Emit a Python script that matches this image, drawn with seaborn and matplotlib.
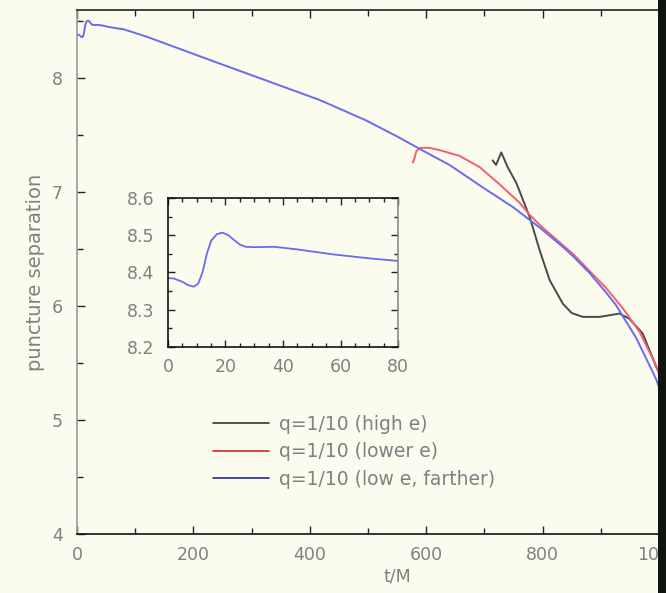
import numpy as np
import pandas as pd
import matplotlib
matplotlib.use("Agg")
import matplotlib.pyplot as plt
import seaborn as sns
from matplotlib.ticker import MultipleLocator
from matplotlib.patches import Rectangle

# ---- data ----
labels = ["q=1/10 (high e)", "q=1/10 (lower e)", "q=1/10 (low e, farther)"]

t_high = [714, 720, 729, 740, 755, 778, 795, 812, 835, 850, 869, 898, 932, 949, 972, 995, 1010]
v_high = [7.28, 7.24, 7.35, 7.22, 7.08, 6.78, 6.49, 6.23, 6.02, 5.94, 5.906, 5.906, 5.935, 5.89, 5.76, 5.47, 5.30]

t_low = [577, 580, 583, 590, 605, 623, 657, 692, 726, 760, 778, 800, 852, 909, 938, 966, 995, 1010]
v_low = [7.26, 7.30, 7.36, 7.39, 7.39, 7.37, 7.32, 7.22, 7.07, 6.91, 6.80, 6.69, 6.46, 6.16, 5.98, 5.78, 5.48, 5.30]

t_far = [0, 2, 5, 7, 9, 10.5, 12, 13.5, 15, 17, 19, 21, 23, 25, 27, 30, 37, 45, 57, 70, 80,
         120, 160, 245, 331, 417, 497, 550, 589, 640, 698, 749, 795, 835, 852, 881, 909, 926,
         961, 995, 1010]
v_far = [8.385, 8.384, 8.375, 8.366, 8.362, 8.37, 8.40, 8.45, 8.485, 8.503, 8.507, 8.50, 8.487,
         8.475, 8.469, 8.468, 8.469, 8.462, 8.449, 8.438, 8.431,
         8.365, 8.29, 8.13, 7.97, 7.81, 7.63, 7.49, 7.38, 7.24, 7.04, 6.87, 6.69, 6.52, 6.44,
         6.29, 6.12, 6.01, 5.72, 5.36, 5.15]

x_ticks = [0, 200, 400, 600, 800, 1000]
y_ticks = [4, 5, 6, 7, 8]
inset_x_ticks = [0, 20, 40, 60, 80]
inset_y_ticks = [8.2, 8.3, 8.4, 8.5, 8.6]

line_colors = ["#4a4a4a", "#f06070", "#6a6af2"]
legend_colors = ["#333333", "#d02828", "#2a2aa0"]

df = pd.concat([
    pd.DataFrame({"t": t_high, "sep": v_high, "run": labels[0]}),
    pd.DataFrame({"t": t_low, "sep": v_low, "run": labels[1]}),
    pd.DataFrame({"t": t_far, "sep": v_far, "run": labels[2]}),
], ignore_index=True)
df_in = df[(df["run"] == labels[2]) & (df["t"] <= 80)]

# ---- style ----
bg = "#fbfbee"
txt = "#808080"
sns.set_theme(style="ticks")
plt.rcParams["font.family"] = ["DejaVu Sans"]

W, H = 666, 593
fig = plt.figure(figsize=(W / 100, H / 100), dpi=100, facecolor=bg)

# main axes: x=0 at px 77, x=1000 at px 659; y=4 at px 534, top at px 10
x0, x1000 = 77, 659
xmax = 1100
right_px = x0 + (x1000 - x0) * xmax / 1000
ax = fig.add_axes([x0 / W, (H - 534) / H, (right_px - x0) / W, (534 - 10) / H])
ax.set_facecolor(bg)

sns.lineplot(data=df, x="t", y="sep", hue="run", hue_order=labels, palette=line_colors,
             sort=False, estimator=None, lw=1.4, ax=ax)
ax.set_xlim(0, xmax)
ax.set_ylim(4, 8.6)
ax.xaxis.set_minor_locator(MultipleLocator(100))
ax.yaxis.set_minor_locator(MultipleLocator(0.5))
ax.set_xticks(x_ticks)
ax.set_yticks(y_ticks)
ax.tick_params(which="both", direction="in", top=True, right=True, colors="#222222",
               labelcolor=txt, labelsize=12.5)
ax.tick_params(which="major", length=6, width=1)
ax.tick_params(which="minor", length=4, width=1)
ax.tick_params(axis="x", pad=9)
ax.tick_params(axis="y", pad=10)
ax.spines["left"].set_color("#9a9a9a")
ax.spines["bottom"].set_color("#111111")
ax.spines["top"].set_color("#222222")
for s in ax.spines.values():
    s.set_linewidth(1.2)
ax.set_xlabel("t/M", color=txt, fontsize=12.5, labelpad=2)
ax.set_ylabel("puncture separation", color=txt, fontsize=14, labelpad=5)

leg = ax.legend(loc="upper left", bbox_to_anchor=(213 / W, 1 - 415 / H),
                bbox_transform=fig.transFigure, frameon=False, fontsize=13.5,
                handlelength=3.0, handletextpad=0.5, labelspacing=0.45, borderpad=0,
                borderaxespad=0)
for h, c in zip(leg.get_lines(), legend_colors):
    h.set_color(c)
    h.set_linewidth(1.2)
for tx in leg.get_texts():
    tx.set_color(txt)

# inset
ins = fig.add_axes([168 / W, (H - 347) / H, (398 - 168) / W, (347 - 198) / H])
ins.set_facecolor(bg)
sns.lineplot(data=df_in, x="t", y="sep", color=line_colors[2], lw=1.3, sort=False,
             estimator=None, ax=ins)
ins.set_xlim(0, 80)
ins.set_ylim(8.2, 8.6)
ins.set_xticks(inset_x_ticks)
ins.set_yticks(inset_y_ticks)
ins.xaxis.set_minor_locator(MultipleLocator(5))
ins.yaxis.set_minor_locator(MultipleLocator(0.05))
ins.tick_params(which="both", direction="in", top=True, right=True, colors="#222222",
                labelcolor=txt, labelsize=12.5)
ins.tick_params(which="major", length=5, width=1)
ins.tick_params(which="minor", length=3, width=1)
ins.tick_params(axis="x", pad=8)
ins.tick_params(axis="y", pad=10)
ins.set_xlabel("")
ins.set_ylabel("")
for s in ins.spines.values():
    s.set_linewidth(1.2)
    s.set_color("#111111")
ins.spines["right"].set_color("#8a8a8a")

# dark window edge on the right of the screenshot
fig.add_artist(Rectangle((658 / W, 0), 8 / W, 1, transform=fig.transFigure,
                         facecolor="#0e140e", edgecolor="none", zorder=20))

fig.savefig("out.png", dpi=100, facecolor=bg)
